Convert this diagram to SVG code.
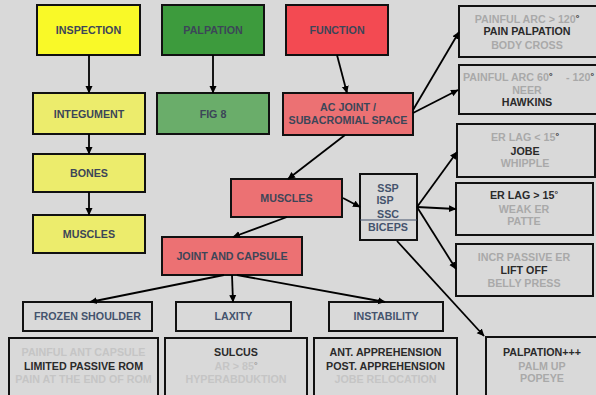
<svg xmlns="http://www.w3.org/2000/svg" width="596" height="395" viewBox="0 0 596 395">
<defs>
<marker id="ah" markerWidth="8" markerHeight="8" refX="7" refY="4" orient="auto" markerUnits="userSpaceOnUse">
<path d="M0,0.5 L7.5,4 L0,7.5 Z" fill="#000"/>
</marker>
<style>
.bx{stroke:#111;stroke-width:2}
.t{font-family:"Liberation Sans",Arial,sans-serif;font-weight:bold;font-size:10.7px;text-anchor:middle}
.n{fill:#3c4658}
.b{fill:#44536d}
.d{fill:#2a2a2a}
.g{fill:#a9a9a9}
.l{fill:#c5c5c5}
.c line{stroke:#000;stroke-width:1.8;marker-end:url(#ah)}
.grey{fill:#d9d9d9}
</style>
</defs>
<rect width="596" height="395" fill="#d9d9d9"/>

<g id="inspection"><rect class="bx" x="37" y="5" width="103" height="50" fill="#f9f928"/><text class="t n" x="88.5" y="34">INSPECTION</text></g>
<g id="palpation"><rect class="bx" x="162" y="5" width="102" height="50" fill="#3d9b3d"/><text class="t n" x="213" y="34">PALPATION</text></g>
<g id="function"><rect class="bx" x="286" y="5" width="102" height="50" fill="#f34a52"/><text class="t n" x="337" y="34">FUNCTION</text></g>

<g id="integument"><rect class="bx" x="33" y="93" width="112" height="41" fill="#ecec6c"/><text class="t n" x="89" y="117.5">INTEGUMENT</text></g>
<g id="fig8"><rect class="bx" x="157" y="93" width="112" height="41" fill="#6aad6a"/><text class="t n" x="213" y="117.5">FIG 8</text></g>
<g id="acjoint"><rect class="bx" x="283" y="93" width="130" height="42" fill="#ec7173"/><text class="t n" x="348" y="111">AC JOINT /</text><text class="t n" x="348" y="123.5">SUBACROMIAL SPACE</text></g>

<g id="bones"><rect class="bx" x="33" y="154" width="112" height="38" fill="#ecec6c"/><text class="t n" x="89" y="177">BONES</text></g>
<g id="muscles-y"><rect class="bx" x="33" y="215" width="112" height="38" fill="#ecec6c"/><text class="t n" x="89" y="238">MUSCLES</text></g>

<g id="muscles-r"><rect class="bx" x="231" y="179" width="111" height="38" fill="#ec7173"/><text class="t n" x="286.5" y="202">MUSCLES</text></g>
<g id="jointcapsule"><rect class="bx" x="162" y="237" width="140" height="38" fill="#ec7173"/><text class="t n" x="232" y="259.5">JOINT AND CAPSULE</text></g>

<g id="rotator"><rect class="bx grey" x="360" y="174" width="57" height="66"/><line x1="360" y1="220" x2="417" y2="220" stroke="#44536d" stroke-width="1.2"/>
<text class="t b" x="388" y="192">SSP</text><text class="t b" x="385" y="204">ISP</text><text class="t b" x="388" y="218">SSC</text><text class="t b" x="388" y="231">BICEPS</text></g>

<g id="box-ac1"><rect class="bx grey" x="459" y="6" width="140" height="51"/>
<text class="t g" x="527" y="23">PAINFUL ARC &gt; 120<tspan class="d" font-size="9" dy="-2">°</tspan></text>
<text class="t d" x="527" y="35">PAIN PALPATION</text>
<text class="t g" x="527" y="49">BODY CROSS</text></g>

<g id="box-ac2"><rect class="bx grey" x="459" y="65" width="140" height="49"/>
<text class="t g" x="463" y="81" style="text-anchor:start">PAINFUL ARC 60<tspan class="d" font-size="9" dy="-2">°</tspan></text>
<text class="t g" x="566" y="81" style="text-anchor:start">- 120<tspan class="d" font-size="9" dy="-2">°</tspan></text>
<text class="t g" x="527" y="94">NEER</text>
<text class="t d" x="527" y="106">HAWKINS</text></g>

<g id="box-ssp"><rect class="bx grey" x="457" y="124" width="138" height="53"/>
<text class="t g" x="525" y="141">ER LAG &lt; 15<tspan class="d" font-size="9" dy="-2">°</tspan></text>
<text class="t d" x="525" y="155">JOBE</text>
<text class="t g" x="525" y="167">WHIPPLE</text></g>

<g id="box-isp"><rect class="bx grey" x="456" y="183" width="137" height="52"/>
<text class="t d" x="524" y="199">ER LAG &gt; 15<tspan font-size="9" dy="-2">°</tspan></text>
<text class="t g" x="524" y="213">WEAK ER</text>
<text class="t g" x="524" y="225">PATTE</text></g>

<g id="box-ssc"><rect class="bx grey" x="456" y="244" width="137" height="52"/>
<text class="t g" x="524" y="261">INCR PASSIVE ER</text>
<text class="t d" x="524" y="274">LIFT OFF</text>
<text class="t g" x="524" y="287">BELLY PRESS</text></g>

<g id="box-biceps"><rect class="bx grey" x="486" y="337" width="114" height="62"/>
<text class="t d" x="542" y="356">PALPATION+++</text>
<text class="t g" x="542" y="370">PALM UP</text>
<text class="t g" x="542" y="382">POPEYE</text></g>

<g id="frozen"><rect class="bx grey" x="23" y="302" width="129" height="29"/><text class="t b" x="87.5" y="320">FROZEN SHOULDER</text></g>
<g id="laxity"><rect class="bx grey" x="176" y="302" width="115" height="29"/><text class="t b" x="233.5" y="320">LAXITY</text></g>
<g id="instability"><rect class="bx grey" x="329" y="302" width="114" height="29"/><text class="t b" x="386" y="320">INSTABILITY</text></g>

<g id="box-frozen"><rect class="bx grey" x="9" y="338" width="149" height="62"/>
<text class="t l" x="83.5" y="356">PAINFUL ANT CAPSULE</text>
<text class="t d" x="83.5" y="370">LIMITED PASSIVE ROM</text>
<text class="t l" x="83.5" y="383">PAIN AT THE END OF ROM</text></g>

<g id="box-laxity"><rect class="bx grey" x="165" y="338" width="142" height="62"/>
<text class="t d" x="236" y="356">SULCUS</text>
<text class="t l" x="236" y="370">AR &gt; 85<tspan fill="#9a9a9a" font-size="9" dy="-2">°</tspan></text>
<text class="t l" x="236" y="383">HYPERABDUKTION</text></g>

<g id="box-instability"><rect class="bx grey" x="314" y="338" width="143" height="62"/>
<text class="t d" x="385.5" y="356">ANT. APPREHENSION</text>
<text class="t d" x="385.5" y="370">POST. APPREHENSION</text>
<text class="t l" x="385.5" y="383">JOBE RELOCATION</text></g>

<g id="connectors" class="c">
<line x1="89" y1="55" x2="89" y2="93"/>
<line x1="213" y1="55" x2="213" y2="93"/>
<line x1="337" y1="55" x2="347" y2="93"/>
<line x1="89" y1="134" x2="89" y2="154"/>
<line x1="89" y1="192" x2="89" y2="215"/>
<line x1="345" y1="135" x2="288" y2="179"/>
<line x1="413" y1="110" x2="459" y2="32"/>
<line x1="413" y1="113" x2="458" y2="90"/>
<line x1="343" y1="198" x2="360" y2="207"/>
<line x1="287" y1="217" x2="233" y2="237"/>
<line x1="417" y1="207" x2="457" y2="152"/>
<line x1="417" y1="207" x2="456" y2="209"/>
<line x1="417" y1="207" x2="456" y2="269"/>
<line x1="397" y1="241" x2="484" y2="336"/>
<line x1="224" y1="275" x2="90" y2="302"/>
<line x1="232" y1="275" x2="233" y2="302"/>
<line x1="237" y1="275" x2="385" y2="302"/>
</g>
</svg>
